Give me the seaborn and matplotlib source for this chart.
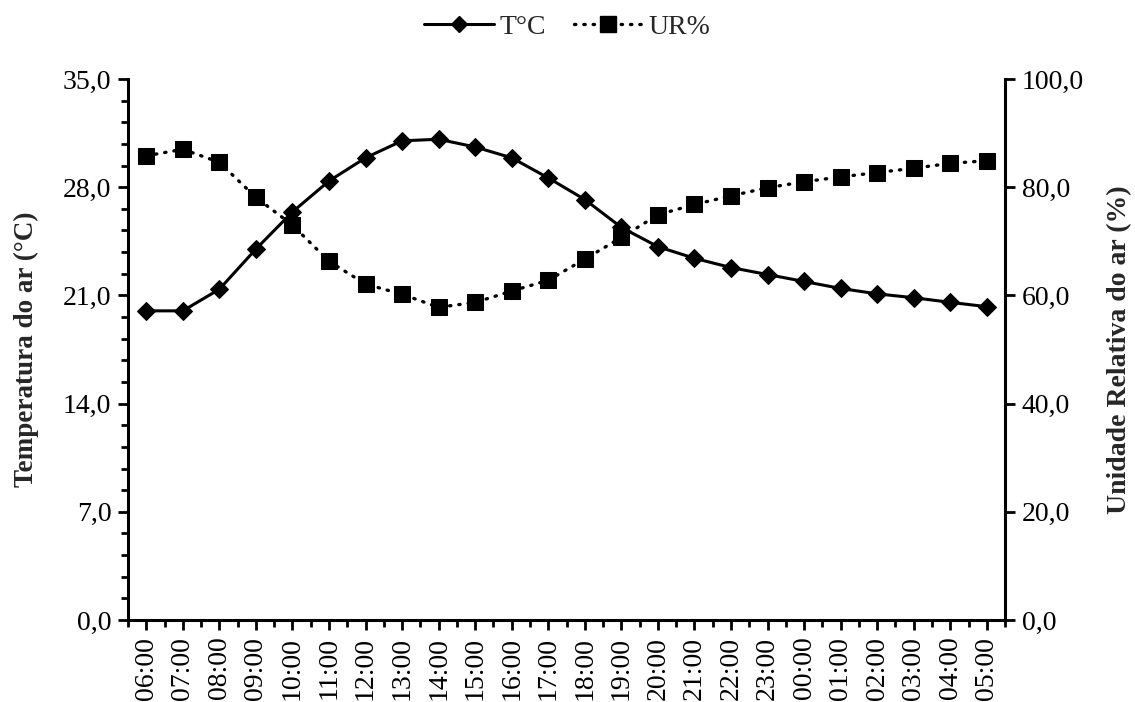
import matplotlib
matplotlib.use("Agg")
import matplotlib.pyplot as plt
import seaborn as sns
import pandas as pd
import numpy as np
from matplotlib.ticker import MultipleLocator, FixedLocator, FuncFormatter
from matplotlib.lines import Line2D

hours = ["06:00", "07:00", "08:00", "09:00", "10:00", "11:00", "12:00", "13:00",
         "14:00", "15:00", "16:00", "17:00", "18:00", "19:00", "20:00", "21:00",
         "22:00", "23:00", "00:00", "01:00", "02:00", "03:00", "04:00", "05:00"]
temp = [20.0, 20.0, 21.4, 24.0, 26.4, 28.4, 29.9, 31.0, 31.1, 30.6, 29.9, 28.6,
        27.2, 25.4, 24.15, 23.4, 22.8, 22.35, 21.9, 21.45, 21.1, 20.85, 20.55, 20.27]
ur = [85.8, 87.0, 84.6, 78.1, 73.0, 66.3, 62.1, 60.2, 57.8, 58.7, 60.8, 62.8,
      66.7, 70.7, 74.9, 76.8, 78.4, 79.9, 81.0, 81.9, 82.7, 83.5, 84.4, 84.9]

sns.set_theme(style="white")
plt.rcParams['font.family'] = ['Liberation Serif', 'DejaVu Serif']

df = pd.DataFrame({"x": np.arange(len(hours)), "T": temp, "UR": ur})

fig = plt.figure(figsize=(11.35, 7.02), dpi=100)
ax = fig.add_axes([0.1128, 0.1168, 0.7727, 0.7707])
ax2 = ax.twinx()

dot = (0, (0.4, 2.4))
sns.lineplot(data=df, x="x", y="T", ax=ax, color="black", linewidth=2.2,
             marker="D", markersize=9, markeredgecolor="black", markerfacecolor="black")
sns.lineplot(data=df, x="x", y="UR", ax=ax2, color="black", linewidth=2.4,
             linestyle=dot, dash_capstyle="round",
             marker="s", markersize=12, markeredgecolor="black", markerfacecolor="black")

fmt = FuncFormatter(lambda v, p: f"{v:.1f}".replace(".", ","))

ax.set_xlim(-0.5, len(hours) - 0.5)
ax.set_ylim(0, 35)
ax.yaxis.set_major_locator(MultipleLocator(7))
ax.yaxis.set_minor_locator(MultipleLocator(1.4))
ax.yaxis.set_major_formatter(fmt)
ax2.set_ylim(0, 100)
ax2.yaxis.set_major_locator(MultipleLocator(20))
ax2.yaxis.set_major_formatter(fmt)

ax.set_xticks(np.arange(len(hours)))
ax.set_xticklabels(hours, rotation=90)
ax.xaxis.set_minor_locator(FixedLocator(np.arange(-0.5, len(hours), 1.0)))

for a in (ax, ax2):
    for s in a.spines.values():
        s.set_visible(False)
    a.grid(False)
ax.spines["left"].set_visible(True)
ax.spines["bottom"].set_visible(True)
ax2.spines["right"].set_visible(True)
for s in (ax.spines["left"], ax.spines["bottom"], ax2.spines["right"]):
    s.set_color("black")
    s.set_linewidth(2.2)

ax.tick_params(axis="both", which="major", direction="out", length=7, width=2,
               color="black", labelsize=20, labelcolor="black",
               left=True, bottom=True, pad=5)
ax.tick_params(axis="both", which="minor", direction="out", length=5, width=2,
               color="black", left=True, bottom=True)
ax2.tick_params(axis="y", which="major", direction="out", length=7, width=2,
                color="black", labelsize=20, labelcolor="black", right=True, pad=5)

ax.set_xlabel("")
ax.set_ylabel("Temperatura do ar (°C)", fontsize=19.5, fontweight="bold", labelpad=17)
ax2.set_ylabel("Unidade Relativa do ar (%)", fontsize=20, fontweight="bold", labelpad=17)

handles = [
    Line2D([], [], color="black", linewidth=2.2, marker="D", markersize=8),
    Line2D([], [], color="black", linewidth=2.4, linestyle=dot,
           dash_capstyle="round", marker="s", markersize=11),
]
fig.legend(handles, ["T°C", "UR%"], loc="center", bbox_to_anchor=(0.5, 1 - 27 / 702),
           ncol=2, frameon=False, fontsize=20, handlelength=2.5, columnspacing=1.0,
           handletextpad=0.2)

fig.savefig("out.png", dpi=100, facecolor="white")
